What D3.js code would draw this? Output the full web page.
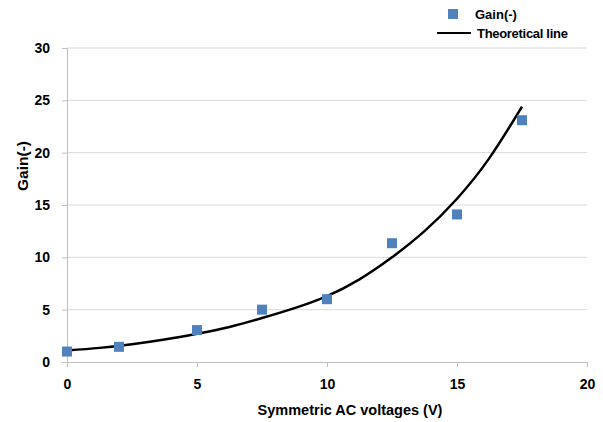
<!DOCTYPE html>
<html><head><meta charset="utf-8">
<script src="https://cdn.jsdelivr.net/npm/d3@7"></script>
<style>body{margin:0;background:#fff;} text{font-family:"Liberation Sans",Arial,sans-serif;font-weight:bold;}</style>
</head><body><svg id="c" width="603" height="422"></svg>
<script>
const voltages = [0, 2, 5, 7.5, 10, 12.5, 15, 17.5];
const gains = [1.0, 1.45, 3.05, 5.0, 6.0, 11.35, 14.1, 23.1];
const lineX = [0, 1.25, 2.5, 3.75, 5, 6.25, 7.5, 8.75, 10, 11.25, 12.5, 13.75, 15, 16.25, 17.5];
const lineY = [1.1, 1.35, 1.7, 2.15, 2.7, 3.35, 4.2, 5.15, 6.3, 7.9, 10.0, 12.5, 15.6, 19.5, 24.4];
const xTicks = [0, 5, 10, 15, 20];
const yTicks = [0, 5, 10, 15, 20, 25, 30];

const svg = d3.select("#c");
const x = d3.scaleLinear().domain([0, 20]).range([67, 587]);
const y = d3.scaleLinear().domain([0, 30]).range([362, 48]);

// gridlines
svg.append("g").selectAll("line").data(yTicks.filter(d => d > 0)).join("line")
  .attr("x1", x(0)).attr("x2", x(20)).attr("y1", d => y(d)).attr("y2", d => y(d))
  .attr("stroke", "#d9d9d9").attr("stroke-width", 1);

// x axis
const xa = svg.append("g").attr("transform", `translate(0,${y(0)})`)
  .call(d3.axisBottom(x).tickValues(xTicks).tickSize(5).tickPadding(12).tickFormat(d3.format("d")));
xa.select(".domain").attr("stroke", "#bfbfbf");
xa.selectAll(".tick line").attr("stroke", "#bfbfbf");
xa.selectAll("text").attr("font-size", 14).attr("fill", "#000").style("font-family", "Liberation Sans, Arial").style("font-weight", "bold");

// y axis
const ya = svg.append("g").attr("transform", `translate(${x(0)},0)`)
  .call(d3.axisLeft(y).tickValues(yTicks).tickSize(5).tickPadding(12).tickFormat(d3.format("d")));
ya.select(".domain").attr("stroke", "#bfbfbf");
ya.selectAll(".tick line").attr("stroke", "#bfbfbf");
ya.selectAll("text").attr("font-size", 14).attr("fill", "#000").style("font-family", "Liberation Sans, Arial").style("font-weight", "bold");

// axis titles
svg.append("text").attr("x", 350).attr("y", 415).attr("text-anchor", "middle")
  .attr("font-size", 14.5).text("Symmetric AC voltages (V)");
svg.append("text").attr("transform", `translate(28,166) rotate(-90)`).attr("text-anchor", "middle")
  .attr("font-size", 15.5).text("Gain(-)");

// theoretical line
const pts = lineX.map((v, i) => [v, lineY[i]]);
svg.append("path").datum(pts)
  .attr("d", d3.line().x(d => x(d[0])).y(d => y(d[1])).curve(d3.curveNatural))
  .attr("fill", "none").attr("stroke", "#000").attr("stroke-width", 2.5);

// markers
const s = 10;
svg.append("g").selectAll("rect").data(voltages).join("rect")
  .attr("x", (d) => x(d) - s / 2).attr("y", (d, i) => y(gains[i]) - s / 2)
  .attr("width", s).attr("height", s).attr("fill", "#4f81bd");

// legend
svg.append("rect").attr("x", 448).attr("y", 9).attr("width", 10).attr("height", 10).attr("fill", "#4f81bd");
svg.append("text").attr("x", 475).attr("y", 19).attr("font-size", 13).text("Gain(-)");
svg.append("line").attr("x1", 437).attr("x2", 471).attr("y1", 33).attr("y2", 33).attr("stroke", "#000").attr("stroke-width", 2);
svg.append("text").attr("x", 477).attr("y", 38).attr("font-size", 13).attr("letter-spacing", -0.3).text("Theoretical line");
</script></body></html>
